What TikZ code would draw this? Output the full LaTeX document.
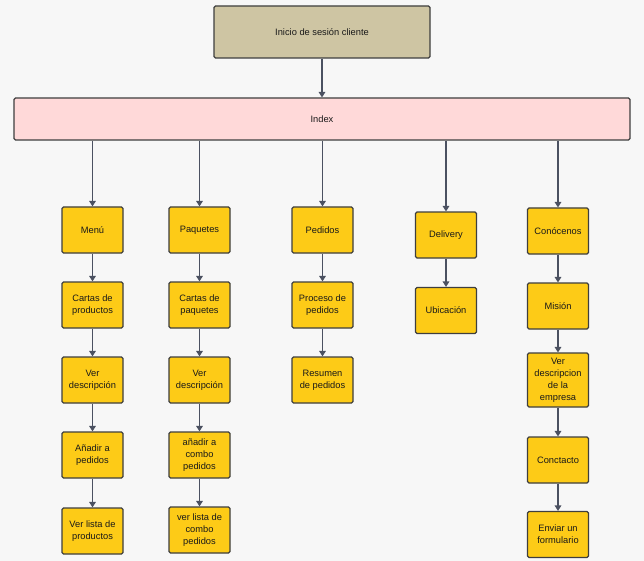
\documentclass[tikz,border=0pt]{standalone}
\usepackage{fontspec}
\setmainfont{Liberation Sans}
\usetikzlibrary{arrows.meta}
\definecolor{bgc}{HTML}{F7F7F7}
\definecolor{tanc}{HTML}{CEC5A3}
\definecolor{pinkc}{HTML}{FFD9D9}
\definecolor{yelc}{HTML}{FDCB17}
\definecolor{edgec}{HTML}{3E3E3E}
\definecolor{arrc}{HTML}{4B5161}
\tikzset{
  base/.style={draw=edgec, line width=1.1pt, rounded corners=1.5pt, align=center,
    font=\fontsize{9.3}{12}\selectfont, text=black!90, inner sep=0pt},
  ybox/.style={base, fill=yelc, minimum width=61pt, minimum height=46pt},
  arr/.style={draw=arrc, line width=1.4pt, -{Triangle[length=5.5pt,width=6.5pt]}}
}
\begin{document}
\begin{tikzpicture}[x=1pt,y=-1pt]
\fill[bgc] (0,0) rectangle (644,561);
\useasboundingbox (0,0) rectangle (644,561);
% top
\node[base, fill=tanc, minimum width=216pt, minimum height=52pt] (inicio) at (322,32) {Inicio de sesión cliente};
\node[base, fill=pinkc, minimum width=616pt, minimum height=42pt] (index) at (322,119) {Index};
% column 1
\node[ybox] (menu) at (92.5,230) {Menú};
\node[ybox] (cp) at (92.5,305) {Cartas de\\productos};
\node[ybox] (vd1) at (92.5,380) {Ver\\descripción};
\node[ybox] (ap) at (92.5,455) {Añadir a\\pedidos};
\node[ybox] (vlp) at (92.5,531) {Ver lista de\\productos};
% column 2
\node[ybox] (paq) at (199.5,230) {Paquetes};
\node[ybox] (cpq) at (199.5,305) {Cartas de\\paquetes};
\node[ybox] (vd2) at (199.5,380) {Ver\\descripción};
\node[ybox] (acp) at (199.5,455) {añadir a\\combo\\pedidos};
\node[ybox] (vlc) at (199.5,530) {ver lista de\\combo\\pedidos};
% column 3
\node[ybox] (ped) at (322.5,230) {Pedidos};
\node[ybox] (pp) at (322.5,305) {Proceso de\\pedidos};
\node[ybox] (rp) at (322.5,380) {Resumen\\de pedidos};
% column 4
\node[ybox] (del) at (446,235) {Delivery};
\node[ybox] (ubi) at (446,310.5) {Ubicación};
% column 5
\node[ybox] (con) at (558,231) {Conócenos};
\node[ybox] (mis) at (558,306) {Misión};
\node[ybox, minimum height=54pt] (vde) at (558,380) {Ver\\descripcion\\de la\\empresa};
\node[ybox] (cto) at (558,460) {Conctacto};
\node[ybox] (env) at (558,534.5) {Enviar un\\formulario};
% arrows
\draw[arr] (inicio) -- (index);
\foreach \n in {menu,paq,ped,del,con}
  \draw[arr] (index.south -| \n.north) -- (\n.north);
\draw[arr] (menu) -- (cp);
\draw[arr] (cp) -- (vd1);
\draw[arr] (vd1) -- (ap);
\draw[arr] (ap) -- (vlp);
\draw[arr] (paq) -- (cpq);
\draw[arr] (cpq) -- (vd2);
\draw[arr] (vd2) -- (acp);
\draw[arr] (acp) -- (vlc);
\draw[arr] (ped) -- (pp);
\draw[arr] (pp) -- (rp);
\draw[arr] (del) -- (ubi);
\draw[arr] (con) -- (mis);
\draw[arr] (mis) -- (vde);
\draw[arr] (vde) -- (cto);
\draw[arr] (cto) -- (env);
\end{tikzpicture}
\end{document}
